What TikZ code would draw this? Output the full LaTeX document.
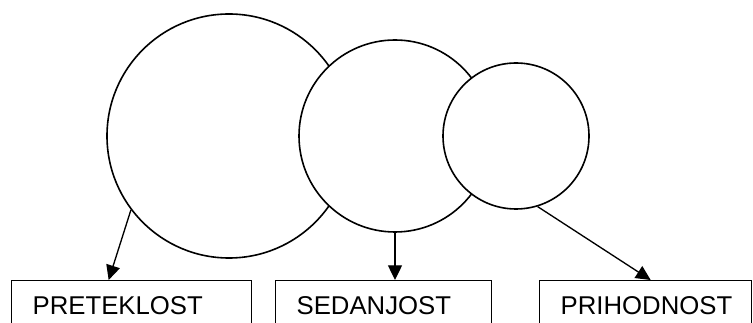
\documentclass[tikz,border=0pt]{standalone}
\usepackage{fontspec}
\setmainfont{Liberation Sans}
\usepackage{tikz}
\usetikzlibrary{positioning,arrows.meta}
\tikzset{%
    period/.style={%
        circle, draw, fill=white, line width=1.2pt, inner sep=0pt, minimum size=#1
    },
    tense/.style={%
        rectangle, draw, line width=1pt, anchor=north west, align=left,
        inner xsep=15.75pt, inner ysep=12pt, text height=13.5pt, text depth=30pt,
        text width=#1, font=\fontsize{19.3}{22}\selectfont
    },
    flow/.style={%
        -{Triangle[length=11pt,width=10.5pt]}, line width=1pt
    },
}

\begin{document}
\begin{tikzpicture}[x=0.75pt,y=-0.75pt]

    \clip (0,0) rectangle (753,323);

    % the three circles, each one over the one before
    \node[period=183pt] (big) at (229,136) {};
    \node[period=144pt] (mid) at (395,136) {};
    \node[period=109.5pt] (small) at (516,136) {};

    % the boxes along the bottom
    \node[tense=148.5pt] (past) at (11,280) {PRETEKLOST};
    \node[tense=130.5pt] (present) at (275,280) {SEDANJOST};
    \node[tense=127.5pt] (future) at (539,280) {PRIHODNOST};

    \draw[flow] (big.217) -- ([xshift=-17.25pt]past.north);
    \draw[flow] (mid.south) -- (mid.south |- present.north);
    \draw[flow] (small.-73) -- ([xshift=3.75pt]future.north);

\end{tikzpicture}
\end{document}
